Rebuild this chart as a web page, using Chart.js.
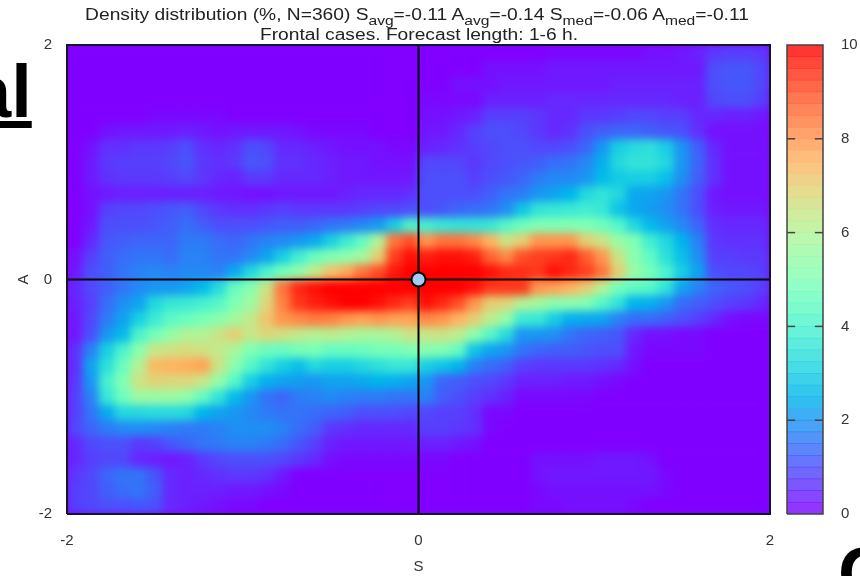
<!DOCTYPE html>
<html>
<head>
<meta charset="utf-8">
<script src="https://cdn.jsdelivr.net/npm/chart.js@4"></script>
<style>
    html, body { margin: 0; background: #fff; overflow: hidden; }
    body { position: relative; width: 860px; height: 576px; font-family: "Liberation Sans", sans-serif; color: #222; }
    canvas { position: absolute; top: 0; }
    #heatWrap { position: absolute; left: 0; top: 0; width: 860px; height: 576px; background: #8000ff; clip-path: inset(45px 90px 62px 67px); }
    #heat { left: 0; filter: blur(4px); }
    .line { position: absolute; left: 0; width: 840px; text-align: center; white-space: nowrap; font-size: 16px; line-height: 18px; transform: scaleX(1.2); }
    .line sub { font-size: 13px; line-height: 0; vertical-align: -5px; }
    .stray { position: absolute; font-weight: bold; color: #000; line-height: 1; }
</style>
</head>
<body>
<div class="stray" style="left:-30px; top:55px; font-size:74px; text-decoration:underline;">al</div>
<div class="stray" style="left:838px; top:537px; font-size:74px;">C</div>
<div id="heatWrap"><canvas id="heat" width="860" height="576"></canvas></div>
<canvas id="map" width="860" height="576" style="left:0"></canvas>
<canvas id="bar" width="90" height="576" style="left:770px"></canvas>
<div class="line" style="top:6px; left:-3px;">Density distribution (%, N=360) S<sub>avg</sub>=-0.11 A<sub>avg</sub>=-0.14 S<sub>med</sub>=-0.06 A<sub>med</sub>=-0.11</div>
<div class="line" style="top:26px; left:-1px;">Frontal cases. Forecast length: 1-6 h.</div>
<script>
// density in %, top row (A=2) first, left column (S=-2) first
const densityRows = [
    [0,0,0,0,0,0,0,0,0,0,0,  0,0,0,0,0,0,0,0,0,0,0,  0,0,0,0,0,0,0,0,.1,.1,.1,  .1,.1,.1,.2,.2,.3,.4,.7,.8,.8,.7],
    [0,0,0,0,0,0,0,0,0,0,0,  0,0,0,0,0,0,0,0,0,0,0,  0,0,0,0,.2,.2,.2,.2,.3,.3,.3,  .3,.3,.3,.3,.3,.3,.3,1,1.1,1.1,.9],
    [0,0,0,0,0,0,0,0,0,0,0,  0,0,0,0,0,0,0,0,0,0,0,  0,0,.2,.2,.2,.3,.3,.3,.3,.3,.3,  .3,.4,.4,.4,.4,.4,.4,1,1.1,1.1,.9],
    [0,0,0,0,0,0,0,0,0,0,0,  0,0,0,0,0,0,0,0,0,0,0,  .1,.1,.1,.1,.4,.4,.4,.4,.5,.5,.5,  .5,.5,.5,.5,.5,.4,.4,.9,1,1,.8],
    [0,0,0,0,0,.1,.1,.1,.1,.1,0,  0,0,0,0,0,0,0,0,0,0,0,  .2,.2,.3,.4,.8,.8,.8,.7,.5,.5,.7,  .7,.8,.9,.9,.8,.8,.5,.5,.4,.4,.3],
    [0,0,.2,.3,.3,.3,.3,.4,.3,.2,.3,  .3,.3,.3,.2,.1,.1,.1,.1,0,0,0,  .3,.3,.5,.8,1,1,.9,.7,.5,.6,1,  1.2,1.3,1.3,1.2,1.1,1,.6,.2,.2,.2,.2],
    [0,.2,.6,.6,.7,.7,.8,1,.6,.5,.6,  1,.9,.5,.5,.4,.3,.2,.2,.2,.1,.1,  .4,.5,.6,.8,.9,1,1,.9,.9,1,1.3,  2,3,3.3,3.4,3,2,1.2,.5,.2,.2,.2],
    [0,.3,.7,.8,.8,.8,.9,1.1,.7,.6,.7,  1.1,1,.6,.6,.5,.4,.3,.3,.2,.2,.2,  .9,.9,.9,.7,.9,1,1.1,1.2,1.4,1.5,1.8,  2.4,3.2,3.5,3.5,3.2,2,1.3,.6,.2,.2,.2],
    [0,.3,.6,.7,.7,.7,.8,.9,.7,.5,.4,  .7,.7,.5,.5,.5,.4,.3,.3,.3,.3,.3,  1,1,1,.8,1,1.1,1.3,1.6,1.8,1.8,2,  2.6,2.9,3,3,2.7,1.9,1.2,.6,.2,.2,.2],
    [0,.2,.3,.4,.4,.4,.4,.4,.4,.3,.3,  .2,.2,.3,.3,.3,.3,.4,.5,.5,.5,.6,  1,1,1,1,1.2,1.5,1.6,2,2.2,2.5,3.2,  3.5,3.2,2.3,2.2,2,1.5,1,.3,.2,.2,.2],
    [0,.2,.8,.9,.9,1,1.1,1.2,.9,.7,.6,  .6,.7,.8,.7,.7,.7,.7,.8,.9,.9,1,  1,1.1,1.3,1.4,1.5,1.9,2.8,3.5,3.6,3.7,3.8,  3.6,2.8,2.3,2.1,1.9,1.5,1,.4,.3,.3,.3],
    [0,.3,1,1,1,1.1,1.2,1.4,1.2,1,1,  1,1.1,1.2,1.2,1.3,1.5,1.6,1.8,2.1,3,4,  3.8,3.6,3.5,3.5,3.6,4.2,4.7,5,5,5,5,  4.7,4.2,3.2,2.6,2.2,1.8,1.3,.6,.5,.5,.5],
    [0,.5,1.1,1.2,1.3,1.3,1.3,1.6,1.6,1.4,1.3,  1.5,1.7,1.8,2,2.3,3,3.7,4.5,6,8.5,9,  8,8.5,8.5,8.2,7.5,6.5,7,8,8,8,7,  6.5,5.5,5,3.8,3.2,2.5,1.7,.7,.6,.6,.6],
    [.2,.8,1.2,1.4,1.5,1.5,1.4,1.7,1.7,1.5,1.5,  1.8,2.2,3,3.8,4.6,5,5.3,5.7,7,9.2,9.8,  9.6,9.8,9.8,9.6,8.7,8.2,9,9.2,9.3,9.5,8.8,  8,6.5,5.2,4.4,3.4,2.7,1.9,.8,.8,.7,.7],
    [.3,1,1.2,1.5,1.7,1.8,1.7,1.8,1.8,1.7,2.3,  3.2,4,4.8,5.3,6.3,7.2,7.7,8.5,9,9.7,10,  10,10,10,10,9.8,9.5,9.4,9.3,9.8,9.5,9.2,  8.5,7,5.5,4.8,4,3,2.2,1,.9,.9,.8],
    [.5,.9,1.2,1.5,1.8,2,2,2.2,2.6,3.3,4.6,  5.2,6.5,8.5,9.5,9.8,10,10,10,10,10,10,  10,10,10,9.8,9.3,9.3,9.3,8,7.8,7.5,7,  6,4.8,4.4,4.2,3.5,2.2,1.7,1.3,1.1,1,.8],
    [.4,.8,1.4,1.9,2.2,3.2,3.6,3.7,3.9,4.2,5,  5.6,6.8,8.3,9.3,9.6,9.8,10,10,9.8,9.5,9.2,  9.8,9.5,9,8,7,6.8,6,5.7,5.2,5.2,5,  4.2,3.5,2.5,2.4,2,1.4,1.2,1,.8,.7,.5],
    [.3,.9,1.6,2.2,3,3.7,4.3,4.6,4.9,5.2,5.7,  6.3,7.2,8,8.2,8.4,8.3,8,7.8,8,7.8,7.8,  8.2,8,7.5,7,6.2,5.4,3.7,3.6,3,2.4,2.3,  2.2,1.7,1.4,1.4,1.2,1,.8,.5,.2,.1,.1],
    [.3,1,2,2.6,4,4.8,5.4,6,6,6.5,7,  6.4,6.8,6.6,6.3,6,6.2,6,5.8,5.8,6,6.5,  6.4,6.5,6.2,5.3,4.2,3.3,2,2,1.9,1.5,1.3,  1.2,1.1,.5,.2,.2,.1,.1,0,0,0,0],
    [.6,1.7,3,4,5.2,6.4,6.6,6.7,6.6,6.3,5.8,  5,4.6,4.5,4.8,4.9,4.5,4.5,4.6,4.8,4.8,5,  5.1,5,4.5,2.8,2.2,2,1.5,1.3,1.2,1.2,1.1,  1,1,.3,.1,.1,.1,.1,0,0,0,0],
    [.6,2.2,3.4,4.6,6,7.4,7.5,7.6,7.8,6.5,5.2,  4.2,3.5,3,2.7,3.2,3,3,3.2,3.4,3.6,3.6,  3,2.8,2.5,1.7,1.4,1.2,.8,.7,.7,.7,.7,  .6,.5,.2,0,0,0,0,0,0,0,0],
    [.7,2,3.9,5,6.5,6.9,6.8,6.8,6.4,5.4,4.2,  3,2.4,2.2,2.1,2,2.2,2.2,2.3,2.5,2.4,2.2,  2,1.3,1.2,1,.9,.7,.4,.4,.4,.3,.3,  .2,.1,0,0,0,0,0,0,0,0,0],
    [.8,1.7,3.6,4.7,5.6,5.5,5.6,5.3,4.5,3.5,2.6,  2,1.5,1.3,1.6,1.7,1.8,1.7,1.6,1.6,1.5,1.5,  1.7,1.2,1,.8,.6,.4,.1,.1,.1,.1,.1,  0,0,0,0,0,0,0,0,0,0,0],
    [.8,1.5,2.3,3.2,3.2,3.3,3.3,3.2,2.5,2.2,2,  1.8,1.6,1.5,1.5,1.4,1.3,1.2,1,1,1,.9,  .9,.8,.8,.6,.1,.1,0,0,0,0,0,  0,0,0,0,0,0,0,0,0,0,0],
    [.9,1.3,1.6,1.8,1.9,1.8,1.7,1.6,1.6,1.7,1.9,  1.9,1.9,1.7,1.4,1.2,.7,.6,.5,.5,.5,.5,  .8,.8,.7,.6,.1,0,0,0,0,0,0,  0,0,0,0,0,0,0,0,0,0,0],
    [.5,.9,1,1,.7,.8,1.1,1.3,1.5,1.6,1.7,  1.7,1.6,1.4,1.1,.8,.4,.3,.3,.3,.3,.3,  .4,.4,.3,.2,0,0,0,0,0,0,0,  0,0,0,0,0,0,0,0,0,0,0],
    [.5,.8,.9,.9,.5,.4,.3,.4,.7,.9,1,  1,1,.9,.7,.5,.2,.1,.1,.1,.1,.1,  .1,.1,0,0,0,0,0,.2,.2,.2,.2,  .3,.3,.3,.2,0,0,0,0,0,0,0],
    [.7,.9,1.3,1.5,1.5,1.1,.5,.4,.5,.6,.7,  .7,.6,.3,0,0,0,0,0,0,0,0,  0,0,0,0,0,0,0,.2,.3,.3,.3,  .3,.3,.3,.3,.1,0,0,0,0,0,0],
    [.8,.9,1.2,1.4,1.5,1.2,.5,.4,.4,.4,.3,  .3,.2,.1,0,0,0,0,0,0,0,0,  0,0,0,0,0,0,0,.1,.2,.2,.2,  .2,.2,.2,.2,.1,0,0,0,0,0,0],
    [.8,.9,1,1,1.1,1,.5,.4,.3,.2,.1,  .1,0,0,0,0,0,0,0,0,0,0,  0,0,0,0,0,0,0,.1,.1,.2,.2,  .2,.2,.1,0,0,0,0,0,0,0,0]
];
const axisTicks = [-2, 0, 2];
const colorTicks = [0, 2, 4, 6, 8, 10];
const innerColorTicks = [2, 4, 6, 8];
const colorLevels = [0.125, 0.375, 0.625, 0.875, 1.125, 1.375, 1.625, 1.875, 2.125, 2.375,
    2.625, 2.875, 3.125, 3.375, 3.625, 3.875, 4.125, 4.375, 4.625, 4.875,
    5.125, 5.375, 5.625, 5.875, 6.125, 6.375, 6.625, 6.875, 7.125, 7.375,
    7.625, 7.875, 8.125, 8.375, 8.625, 8.875, 9.125, 9.375, 9.625, 9.875];

const FONT = { family: '"Liberation Sans", sans-serif', size: 15 };
const INK = '#333';
Chart.defaults.animation = false;
Chart.defaults.font.family = FONT.family;
Chart.defaults.plugins.legend.display = false;
Chart.defaults.plugins.tooltip.enabled = false;

// gnuplot rgbformulae 33,13,10
function rainbow(value, alpha = 1) {
    const x = Math.min(1, value / 10);
    const r = Math.min(1, Math.abs(2 * x - 0.5));
    const g = Math.sin(Math.PI * x);
    const b = Math.cos(Math.PI * x / 2);
    return `rgba(${Math.round(r * 255)}, ${Math.round(g * 255)}, ${Math.round(b * 255)}, ${alpha})`;
}

function densityDatasets() {
    const rowCount = densityRows.length;
    return densityRows.map((row, j) => {
        const top = 2 - 4 * j / rowCount;
        const bottom = 2 - 4 * (j + 1) / rowCount;
        return {
            type: 'bar',
            grouped: false,
            barPercentage: 1,
            categoryPercentage: 1,
            backgroundColor: row.map(v => rainbow(v)),
            data: row.map((v, i) => ({ x: -2 + 4 * (i + 0.5) / row.length, y: [bottom, top] }))
        };
    });
}

function lineDataset(points, width, color, order) {
    return {
        type: 'scatter',
        showLine: true,
        clip: false,
        order: order,
        borderColor: color,
        borderWidth: width,
        pointRadius: 0,
        data: points
    };
}

// the density cells sit on their own canvas so that they can be softened
new Chart(document.getElementById('heat'), {
    data: { datasets: densityDatasets() },
    options: {
        responsive: false,
        layout: { padding: { top: 45, right: 90, left: 0, bottom: 0 } },
        scales: {
            x: {
                type: 'linear',
                offset: false,
                min: -2,
                max: 2,
                afterFit: s => { s.height = 62; },
                grid: { display: false, drawTicks: false },
                border: { display: false },
                ticks: { display: false }
            },
            y: {
                type: 'linear',
                min: -2,
                max: 2,
                afterFit: s => { s.width = 67; },
                grid: { display: false, drawTicks: false },
                border: { display: false },
                ticks: { display: false }
            }
        }
    }
});

new Chart(document.getElementById('map'), {
    data: {
        datasets: [
            lineDataset([{ x: -2, y: 0 }, { x: 2, y: 0 }], 2, '#000', 2),
            lineDataset([{ x: 0, y: -2 }, { x: 0, y: 2 }], 2, '#000', 2),
            lineDataset([{ x: -2, y: -2 }, { x: 2, y: -2 }, { x: 2, y: 2 }, { x: -2, y: 2 }, { x: -2, y: -2 }], 2, '#14142a', 1),
            {
                type: 'scatter',
                order: 0,
                pointRadius: 7,
                pointBackgroundColor: '#a3cdf2',
                pointBorderColor: '#000',
                pointBorderWidth: 2,
                data: [{ x: 0, y: 0 }]
            }
        ]
    },
    options: {
        responsive: false,
        layout: { padding: { top: 45, right: 90, left: 0, bottom: 0 } },
        scales: {
            x: {
                type: 'linear',
                min: -2,
                max: 2,
                afterBuildTicks: s => { s.ticks = axisTicks.map(v => ({ value: v })); },
                afterFit: s => { s.height = 62; },
                grid: { display: false, drawTicks: false },
                border: { display: false },
                ticks: { font: FONT, color: INK, padding: 18, maxRotation: 0, autoSkip: false },
                title: { display: true, text: 'S', font: FONT, color: INK, padding: { top: 9, bottom: 0 } }
            },
            y: {
                type: 'linear',
                min: -2,
                max: 2,
                afterBuildTicks: s => { s.ticks = axisTicks.map(v => ({ value: v })); },
                afterFit: s => { s.width = 67; },
                grid: { display: false, drawTicks: false },
                border: { display: false },
                ticks: { font: FONT, color: INK, padding: 15, autoSkip: false },
                title: { display: true, text: 'A', font: FONT, color: INK, padding: { top: 15, bottom: 0 } }
            }
        }
    }
});

new Chart(document.getElementById('bar'), {
    data: {
        datasets: [
            ...colorLevels.map(v => ({
                type: 'bar',
                grouped: false,
                order: 5,
                barThickness: 36,
                backgroundColor: rainbow(v, 0.82),
                data: [{ x: 0, y: [v - 0.125, v + 0.125] }]
            })),
            lineDataset([{ x: -1, y: 0 }, { x: 1, y: 0 }, { x: 1, y: 10 }, { x: -1, y: 10 }, { x: -1, y: 0 }], 1.5, '#444', 1),
            ...innerColorTicks.flatMap(v => [
                lineDataset([{ x: -1, y: v }, { x: -0.55, y: v }], 1.5, '#444', 2),
                lineDataset([{ x: 0.55, y: v }, { x: 1, y: v }], 1.5, '#444', 2)
            ])
        ]
    },
    options: {
        responsive: false,
        layout: { padding: { top: 45, left: 17, right: 0, bottom: 0 } },
        scales: {
            x: {
                type: 'linear',
                offset: false,
                min: -1,
                max: 1,
                afterFit: s => { s.height = 62; },
                grid: { display: false, drawTicks: false },
                border: { display: false },
                ticks: { display: false }
            },
            y: {
                type: 'linear',
                position: 'right',
                min: 0,
                max: 10,
                afterBuildTicks: s => { s.ticks = colorTicks.map(v => ({ value: v })); },
                afterFit: s => { s.width = 37; },
                grid: { display: false, drawTicks: false },
                border: { display: false },
                ticks: { font: FONT, color: INK, padding: 18, autoSkip: false }
            }
        }
    }
});
</script>
</body>
</html>
